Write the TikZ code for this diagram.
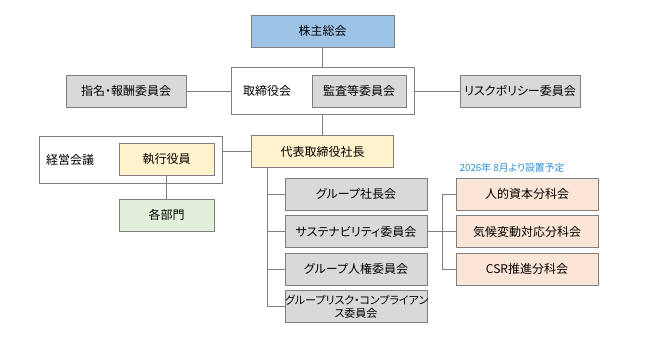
\documentclass[tikz,border=0pt]{standalone}
\usepackage{fontspec}
\setmainfont{Noto Sans CJK JP}[RawFeature=+palt]
\usetikzlibrary{positioning}
\definecolor{linegray}{HTML}{7F7F7F}
\definecolor{agmblue}{HTML}{9DC3E6}
\definecolor{boxgray}{HTML}{D9D9D9}
\definecolor{ceoyellow}{HTML}{FFF2CC}
\definecolor{deptgreen}{HTML}{E2EFDA}
\definecolor{subpeach}{HTML}{FBE5D6}
\definecolor{noteblue}{HTML}{2E8FD8}

\begin{document}
\begin{tikzpicture}[x=1pt, y=-1pt, node distance=4.5pt and 29pt,
    every node/.style={font=\fontsize{12}{15}\selectfont},
    orgbox/.style={draw=linegray, line width=1pt, minimum height=32pt, inner sep=1pt, align=center},
    frame/.style={draw=linegray, line width=1pt, fill=white, minimum width=183pt, minimum height=47pt},
    conn/.style={draw=linegray, line width=1pt}]
    \useasboundingbox (0,0) rectangle (645,362);
    % top of the chart
    \node[orgbox, fill=agmblue, minimum width=143pt] (agm) at (322.5,31) {株主総会};
    \node[frame] (board) at (322.5,91) {};
    \node (boardlbl) at (267,91) {取締役会};
    \node[orgbox, fill=boxgray, minimum width=94pt] (audit) at (359,91) {監査等委員会};
    \node[orgbox, fill=boxgray, minimum width=120pt] (nomcomp) at (126,91) {指名・報酬委員会};
    \node[orgbox, fill=boxgray, minimum width=120pt] (riskpol) at (520,91) {リスクポリシー委員会};
    % executive side
    \node[orgbox, fill=ceoyellow, minimum width=142pt] (ceo) at (322.5,151.5) {代表取締役社長};
    \node[frame] (mgmt) at (130.5,159.5) {};
    \node (mgmtlbl) at (70,159.5) {経営会議};
    \node[orgbox, fill=ceoyellow, minimum width=95pt] (officers) at (166.5,159) {執行役員};
    \node[orgbox, fill=deptgreen, minimum width=95pt, below=23pt of officers] (depts) {各部門};
    % committees
    \node[orgbox, fill=boxgray, minimum width=142pt] (grppres) at (356,194) {グループ社長会};
    \node[orgbox, fill=boxgray, minimum width=142pt, below=of grppres] (sustain) {サステナビリティ委員会};
    \node[orgbox, fill=boxgray, minimum width=142pt, below=of sustain] (humanrights) {グループ人権委員会};
    \node[orgbox, fill=boxgray, minimum width=142pt, below=of humanrights, inner sep=0pt, text width=142pt,
        font=\fontsize{11}{13}\selectfont] (riskcomp) {グループリスク・コンプライアン\\ス委員会};
    \node[orgbox, fill=subpeach, minimum width=142pt] (humancap) at (527,194) {人的資本分科会};
    \node[orgbox, fill=subpeach, minimum width=142pt, below=of humancap] (climate) {気候変動対応分科会};
    \node[orgbox, fill=subpeach, minimum width=142pt, below=of climate] (csr) {CSR推進分科会};
    \node[text=noteblue, font=\fontsize{9.8}{11}\selectfont] (plannote) at (512,168) {2026年 8月より設置予定};
    % connectors
    \draw[conn] (agm) -- (board);
    \draw[conn] (nomcomp) -- (board);
    \draw[conn] (board) -- (riskpol);
    \draw[conn] (board) -- (ceo);
    \draw[conn] (ceo.west) -- (ceo.west -| mgmt.east);
    \draw[conn] (officers) -- (depts);
    \coordinate (trunk) at ([xshift=16pt]ceo.south west);
    \foreach \c in {grppres,sustain,humanrights,riskcomp}
        \draw[conn] (trunk) |- (\c.west);
    \coordinate (sjoin) at ([xshift=14.5pt]sustain.east);
    \draw[conn] (sustain) -- (sjoin);
    \foreach \s in {humancap,climate,csr}
        \draw[conn] (sjoin) |- (\s.west);
\end{tikzpicture}
\end{document}
